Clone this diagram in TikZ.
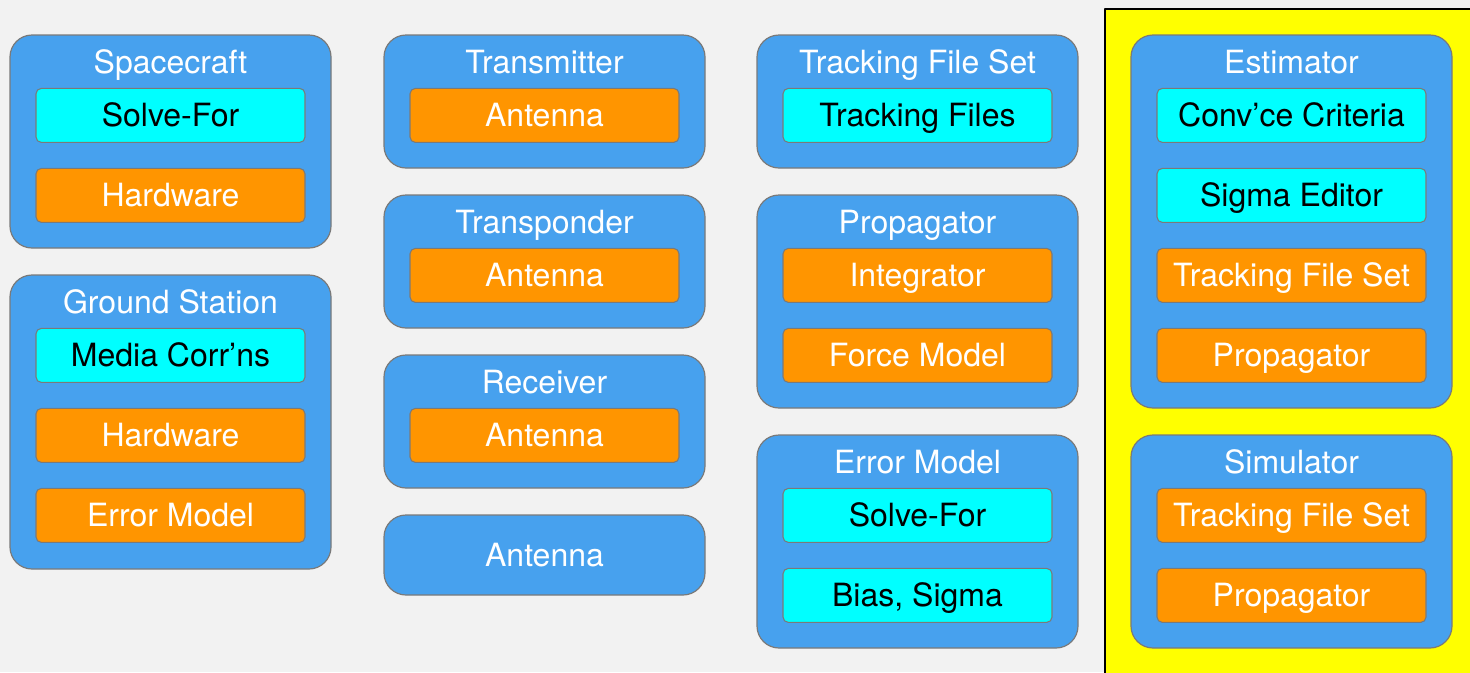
\documentclass[tikz,border=0pt]{standalone}
\usepackage{fontspec}
\setmainfont{TeX Gyre Heros}
\usetikzlibrary{positioning}
\definecolor{pagebg}{HTML}{F2F2F2}
\definecolor{groupblue}{HTML}{47A1EE}
\definecolor{itemorange}{HTML}{FF9500}
\definecolor{itemcyan}{HTML}{00FFFF}
\definecolor{runyellow}{HTML}{FFFF00}
\definecolor{boxline}{HTML}{7A7A7A}
\tikzset{
every picture/.style={line cap=round,line join=round},
box font/.style={
  font=\fontsize{24}{28}\selectfont,
  text height=17.2pt,
  text depth=0pt
},
group box/.style={
  draw=boxline,
  fill=groupblue,
  rounded corners=16.5pt,
  line width=0.9pt,
  minimum width=240.75pt,
  inner sep=0pt
},
group title/.style={box font, text=white, inner sep=0pt},
item box/.style={
  box font,
  draw=boxline,
  rounded corners=4pt,
  line width=0.8pt,
  minimum width=201.75pt,
  minimum height=40.5pt,
  inner sep=0pt
},
hw item/.style={item box, fill=itemorange, text=white},
param item/.style={item box, fill=itemcyan, text=black},
run panel/.style={draw=black, fill=runyellow, line width=1.5pt}
}

\begin{document}
\begin{tikzpicture}[x=0.75pt,y=-0.75pt]
\fill[pagebg] (0,0) rectangle (1470,672);
\clip (0,0) rectangle (1470,672);
\path[run panel] (1105,9) rectangle (1490,700);

% first column
\node[group box, minimum height=159.75pt] (spacecraft) at (170.5,141.5) {};
\node[group title, below=11.6pt of spacecraft.north] (spacecrafttitle) {Spacecraft};
\node[param item, below=10.9pt of spacecrafttitle] (scsolvefor) {Solve-For};
\node[hw item, below=18.7pt of scsolvefor] (schardware) {Hardware};

\node[group box, minimum height=220.5pt] (station) at (170.5,422) {};
\node[group title, below=11.6pt of station.north] (stationtitle) {Ground Station};
\node[param item, below=10.9pt of stationtitle] (gsmedia) {Media Corr’ns};
\node[hw item, below=18.7pt of gsmedia] (gshardware) {Hardware};
\node[hw item, below=18.7pt of gshardware] (gserror) {Error Model};

% second column
\node[group box, minimum height=99.75pt] (transmitter) at (544.5,101.5) {};
\node[group title, below=11.6pt of transmitter.north] (transmittertitle) {Transmitter};
\node[hw item, below=10.9pt of transmittertitle] (txantenna) {Antenna};

\node[group box, minimum height=99.75pt] (transponder) at (544.5,261.5) {};
\node[group title, below=11.6pt of transponder.north] (transpondertitle) {Transponder};
\node[hw item, below=10.9pt of transpondertitle] (tpantenna) {Antenna};

\node[group box, minimum height=99.75pt] (receiver) at (544.5,421.5) {};
\node[group title, below=11.6pt of receiver.north] (receivertitle) {Receiver};
\node[hw item, below=10.9pt of receivertitle] (rxantenna) {Antenna};

\node[group box, box font, text=white, minimum height=60pt] (antenna) at (544.5,555) {Antenna};

% third column
\node[group box, minimum height=99.75pt] (trackset) at (917.5,101.5) {};
\node[group title, below=11.6pt of trackset.north] (tracksettitle) {Tracking File Set};
\node[param item, below=10.9pt of tracksettitle] (trackfiles) {Tracking Files};

\node[group box, minimum height=159.75pt] (propagator) at (917.5,301.5) {};
\node[group title, below=11.6pt of propagator.north] (propagatortitle) {Propagator};
\node[hw item, below=10.9pt of propagatortitle] (integrator) {Integrator};
\node[hw item, below=18.7pt of integrator] (forcemodel) {Force Model};

\node[group box, minimum height=159.75pt] (errormodel) at (917.5,541.5) {};
\node[group title, below=11.6pt of errormodel.north] (errormodeltitle) {Error Model};
\node[param item, below=10.9pt of errormodeltitle] (emsolvefor) {Solve-For};
\node[param item, below=18.7pt of emsolvefor] (biassigma) {Bias, Sigma};

% fourth column, on the yellow panel
\node[group box, minimum height=279.75pt] (estimator) at (1291.5,221.5) {};
\node[group title, below=11.6pt of estimator.north] (estimatortitle) {Estimator};
\node[param item, below=10.9pt of estimatortitle] (convcrit) {Conv’ce Criteria};
\node[param item, below=18.7pt of convcrit] (sigmaeditor) {Sigma Editor};
\node[hw item, below=18.7pt of sigmaeditor] (esttrackset) {Tracking File Set};
\node[hw item, below=18.7pt of esttrackset] (estpropagator) {Propagator};

\node[group box, minimum height=159.75pt] (simulator) at (1291.5,541.5) {};
\node[group title, below=11.6pt of simulator.north] (simulatortitle) {Simulator};
\node[hw item, below=10.9pt of simulatortitle] (simtrackset) {Tracking File Set};
\node[hw item, below=18.7pt of simtrackset] (simpropagator) {Propagator};
\end{tikzpicture}
\end{document}
